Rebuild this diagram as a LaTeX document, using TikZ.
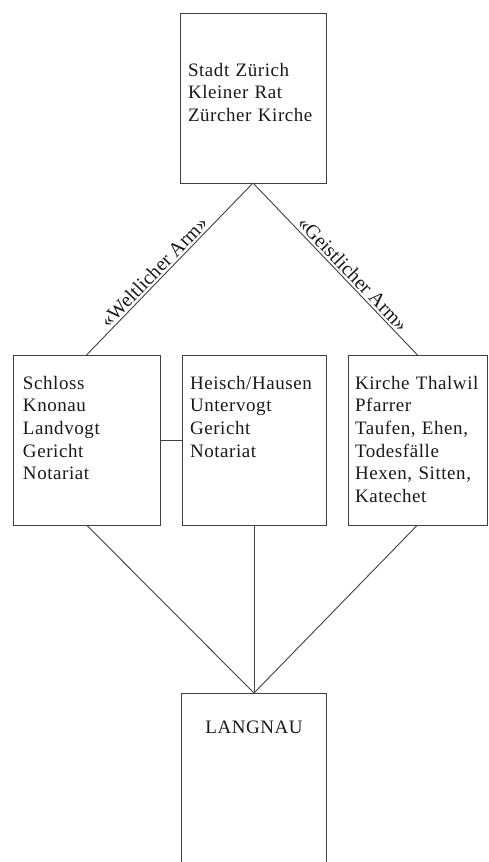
\documentclass[tikz,border=0pt]{standalone}
\usepackage{fontspec}
\setmainfont{Liberation Serif}[LetterSpace=3]
\newfontfamily\armfont{Liberation Serif}
\usepackage{tikz}
\usetikzlibrary{positioning}

\begin{document}
\begin{tikzpicture}[
        x=1pt, y=-1pt,
        node distance=22pt,
        box/.style={rectangle, draw=black!75, line width=0.9pt, outer sep=0pt, anchor=north west, inner ysep=0pt, align=left, font=\fontsize{19}{22.7}\selectfont, text=black!90},
        link/.style={draw=black!75, line width=0.9pt},
        arm/.style={midway, sloped, above, inner sep=2pt, font=\armfont\fontsize{20}{24}\selectfont, text=black!90}
    ]
        \useasboundingbox (0,0) rectangle (489,862);
        \clip (0,0) rectangle (489,862);

        % Stadt
        \node[box, inner xsep=8pt, text width=130pt, text height=63pt, text depth=107pt] (zuerich) at (180,13) {Stadt Zürich\\Kleiner Rat\\Zürcher Kirche};

        % Middle row
        \node[box, inner xsep=10pt, text width=127pt, text height=34pt, text depth=136pt] (knonau) at (13,355) {Schloss\\Knonau\\Landvogt\\Gericht\\Notariat};
        \node[box, right=of knonau, inner xsep=8pt, text width=128pt, text height=34pt, text depth=136pt] (hausen) {Heisch/Hausen\\Untervogt\\Gericht\\Notariat};
        \node[box, right=of hausen, inner xsep=7pt, text width=125pt, text height=34pt, text depth=136pt] (thalwil) {Kirche Thalwil\\Pfarrer\\Taufen, Ehen,\\Todesfälle\\Hexen, Sitten,\\Katechet};

        % Gemeinde
        \node[box, below=168pt of hausen, inner xsep=0pt, text width=145pt, align=center, text height=40pt, text depth=200pt] (langnau) {LANGNAU};

        % Arms
        \draw[link] (knonau.north) -- (zuerich.south) node[arm, pos=0.445] {«Weltlicher Arm»};
        \draw[link] (zuerich.south) -- (thalwil.north) node[arm, pos=0.567] {«Geistlicher Arm»};
        \draw[link] (knonau.east) -- (hausen.west);

        % Down to Langnau
        \draw[link] (knonau.south) -- (langnau.north);
        \draw[link] (hausen.south) -- (langnau.north);
        \draw[link] (thalwil.south) -- (langnau.north);

    \end{tikzpicture}
\end{document}
